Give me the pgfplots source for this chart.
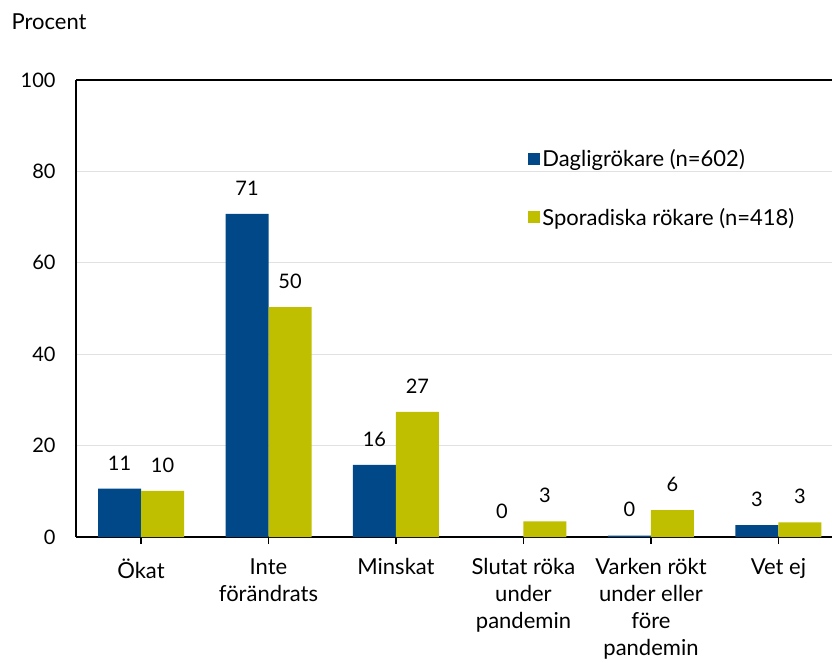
\documentclass[border=0pt]{standalone}
\usepackage{fontspec}
\setmainfont{Lato}
\usepackage{pgfplots}
\pgfplotsset{compat=1.18}
\definecolor{cblue}{RGB}{0,72,135}
\definecolor{cyel}{RGB}{191,191,0}
\definecolor{gridc}{RGB}{225,225,225}
\newcommand{\fs}{\fontsize{20}{27}\selectfont}
\newcommand{\ft}{\fontsize{22}{27}\selectfont}
\begin{document}
\begin{tikzpicture}
\begin{axis}[
 scale only axis, width=756pt, height=457pt,
 ymin=0, ymax=100, ytick={0,20,...,100},
 xmin=-0.51, xmax=5.42,
 xtick={0,...,5},
 xticklabels={Ökat, Inte\\förändrats, Minskat, Slutat röka\\under\\pandemin, Varken rökt\\under eller\\före\\pandemin, Vet ej},
 xticklabel style={align=center, font=\ft, yshift=-11pt},
 yticklabel style={font=\fs, xshift=-10pt},
 /pgf/number format/assume math mode=true,
 axis x line*=bottom, axis y line*=left,
 axis line style={line width=1.5pt, -},
 tick align=outside, major tick length=7pt,
 xtick style={black, line width=1.2pt},
 ytick style={draw=none},
 ymajorgrids, grid style={gridc, line width=1pt},
 ybar=0pt, bar width=43pt,
 nodes near coords={\pgfmathprintnumber[fixed,precision=0]{\pgfplotspointmeta}},
 every node near coord/.append style={font=\fs, yshift=15pt, black},
 legend style={draw=none, fill=none, at={(0.598,0.853)}, anchor=north west, font=\ft, row sep=36pt, inner sep=0pt},
 legend cell align=left,
 legend image code/.code={\fill[#1] (0pt,-6pt) rectangle (12pt,6pt);},
]
\addplot[fill=cblue, draw=none] coordinates {(0,10.6) (1,70.7) (2,15.8) (3,0) (4,0.3) (5,2.6)};
\addplot[fill=cyel, draw=none] coordinates {(0,10.1) (1,50.3) (2,27.4) (3,3.4) (4,5.9) (5,3.2)};
\legend{Dagligrökare (n=602), Sporadiska rökare (n=418)}
\draw[black, line width=1.5pt] (rel axis cs:0,1) -- (rel axis cs:1,1);
\end{axis}
\node[font=\ft] at ([shift={(-27pt,58pt)}]current axis.north west) {Procent};
\pgfresetboundingbox
\path ([shift={(-76pt,-125pt)}]current axis.south west) rectangle ([shift={(0pt,80pt)}]current axis.north east);
\end{tikzpicture}
\end{document}
